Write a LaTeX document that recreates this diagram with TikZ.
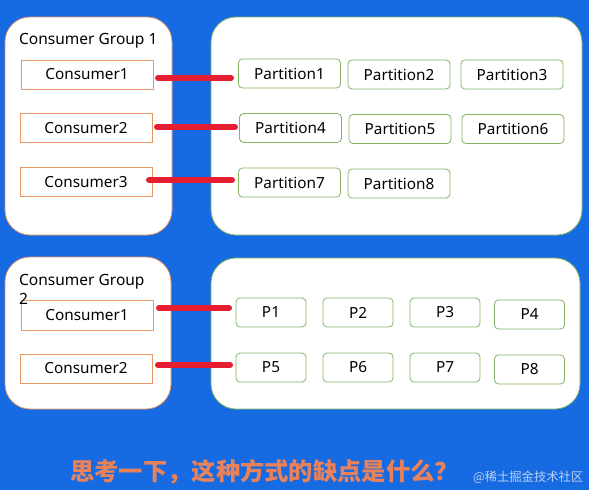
\documentclass[tikz,border=0pt]{standalone}
\usepackage{fontspec}
\setmainfont{Noto Sans}
\newfontfamily\cjk{Noto Sans CJK SC}
\definecolor{bgblue}{RGB}{22,106,226}
\definecolor{orng}{RGB}{232,150,100}
\definecolor{grn}{RGB}{130,180,100}
\definecolor{redl}{RGB}{230,30,50}
\definecolor{qtext}{RGB}{232,130,90}
\begin{document}
\begin{tikzpicture}[x=1pt,y=-1pt,
  groupbox/.style={draw=orng,fill=white,rounded corners=25pt,line width=0.8pt},
  partbox/.style={draw=grn,fill=white,rounded corners=25pt,line width=0.8pt},
  cons/.style={draw=orng,fill=white,line width=0.8pt,font=\fontsize{15.3}{17}\selectfont},
  part/.style={draw=grn,fill=white,rounded corners=4pt,line width=0.8pt,font=\fontsize{15.3}{17}\selectfont},
  link/.style={draw=redl,line width=6pt,line cap=round}]
\fill[bgblue] (0,0) rectangle (589,490);
\useasboundingbox (0,0) rectangle (589,490);
% group 1
\draw[groupbox] (5,17) rectangle (172,235);
\draw[partbox] (211,17) rectangle (582,235);
\node[anchor=west,font=\fontsize{15.5}{17}\selectfont,inner sep=0pt] (g1) at (19,41) {Consumer Group 1};
\node[cons,minimum width=132pt,minimum height=29pt] (c1) at (87,74.5) {Consumer1};
\node[cons,minimum width=132pt,minimum height=29pt] (c2) at (86,128) {Consumer2};
\node[cons,minimum width=132pt,minimum height=29pt] (c3) at (86,182) {Consumer3};
\tikzset{pw/.style={part,minimum width=102pt,minimum height=29pt}}
\node[pw] (p1) at (289.5,73.5) {Partition1};
\node[pw] (p2) at (399,74.5) {Partition2};
\node[pw] (p3) at (512,74.5) {Partition3};
\node[pw] (p4) at (290.5,128) {Partition4};
\node[pw] (p5) at (400,129) {Partition5};
\node[pw] (p6) at (513,129) {Partition6};
\node[pw] (p7) at (289.5,182.5) {Partition7};
\node[pw] (p8) at (399,183.5) {Partition8};
\coordinate (a1) at (158,78); \coordinate (b1) at (231,78);
\coordinate (a2) at (157,127); \coordinate (b2) at (235,127);
\coordinate (a3) at (149,180); \coordinate (b3) at (232,180);
\draw[link] (a1) -- (b1);
\draw[link] (a2) -- (b2);
\draw[link] (a3) -- (b3);
% group 2
\draw[groupbox] (5,257) rectangle (171,409);
\draw[partbox] (211,258) rectangle (580,409);
\node[cons,minimum width=132pt,minimum height=30pt] (d1) at (87,315) {Consumer1};
\node[cons,minimum width=132pt,minimum height=29pt] (d2) at (86,368.5) {Consumer2};
\node[anchor=north west,align=left,font=\fontsize{15.5}{19}\selectfont,inner sep=0pt] (g2) at (19,274) {Consumer Group\\2};
\tikzset{qw/.style={part,minimum width=70pt,minimum height=29pt}}
\node[qw] (q1) at (271,312.5) {P1};
\node[qw] (q2) at (358,312.5) {P2};
\node[qw] (q3) at (445,312.5) {P3};
\node[qw] (q4) at (529.5,314.5) {P4};
\node[qw] (q5) at (271,367.5) {P5};
\node[qw] (q6) at (358,367.5) {P6};
\node[qw] (q7) at (445,367.5) {P7};
\node[qw] (q8) at (529.5,369.5) {P8};
\coordinate (e1) at (159,308); \coordinate (f1) at (229,308);
\coordinate (e2) at (158,365); \coordinate (f2) at (230,365);
\draw[link] (e1) -- (f1);
\draw[link] (e2) -- (f2);
% bottom text
\node[anchor=west,inner sep=0pt,text=qtext,font=\cjk\bfseries\fontsize{24.3}{27}\selectfont] (q) at (70,472) {思考一下，这种方式的缺点是什么？};
\node[anchor=west,inner sep=0pt,text=white!70!bgblue,font=\cjk\fontsize{12.3}{14}\selectfont] (wm) at (473,477) {@稀土掘金技术社区};
\end{tikzpicture}
\end{document}
